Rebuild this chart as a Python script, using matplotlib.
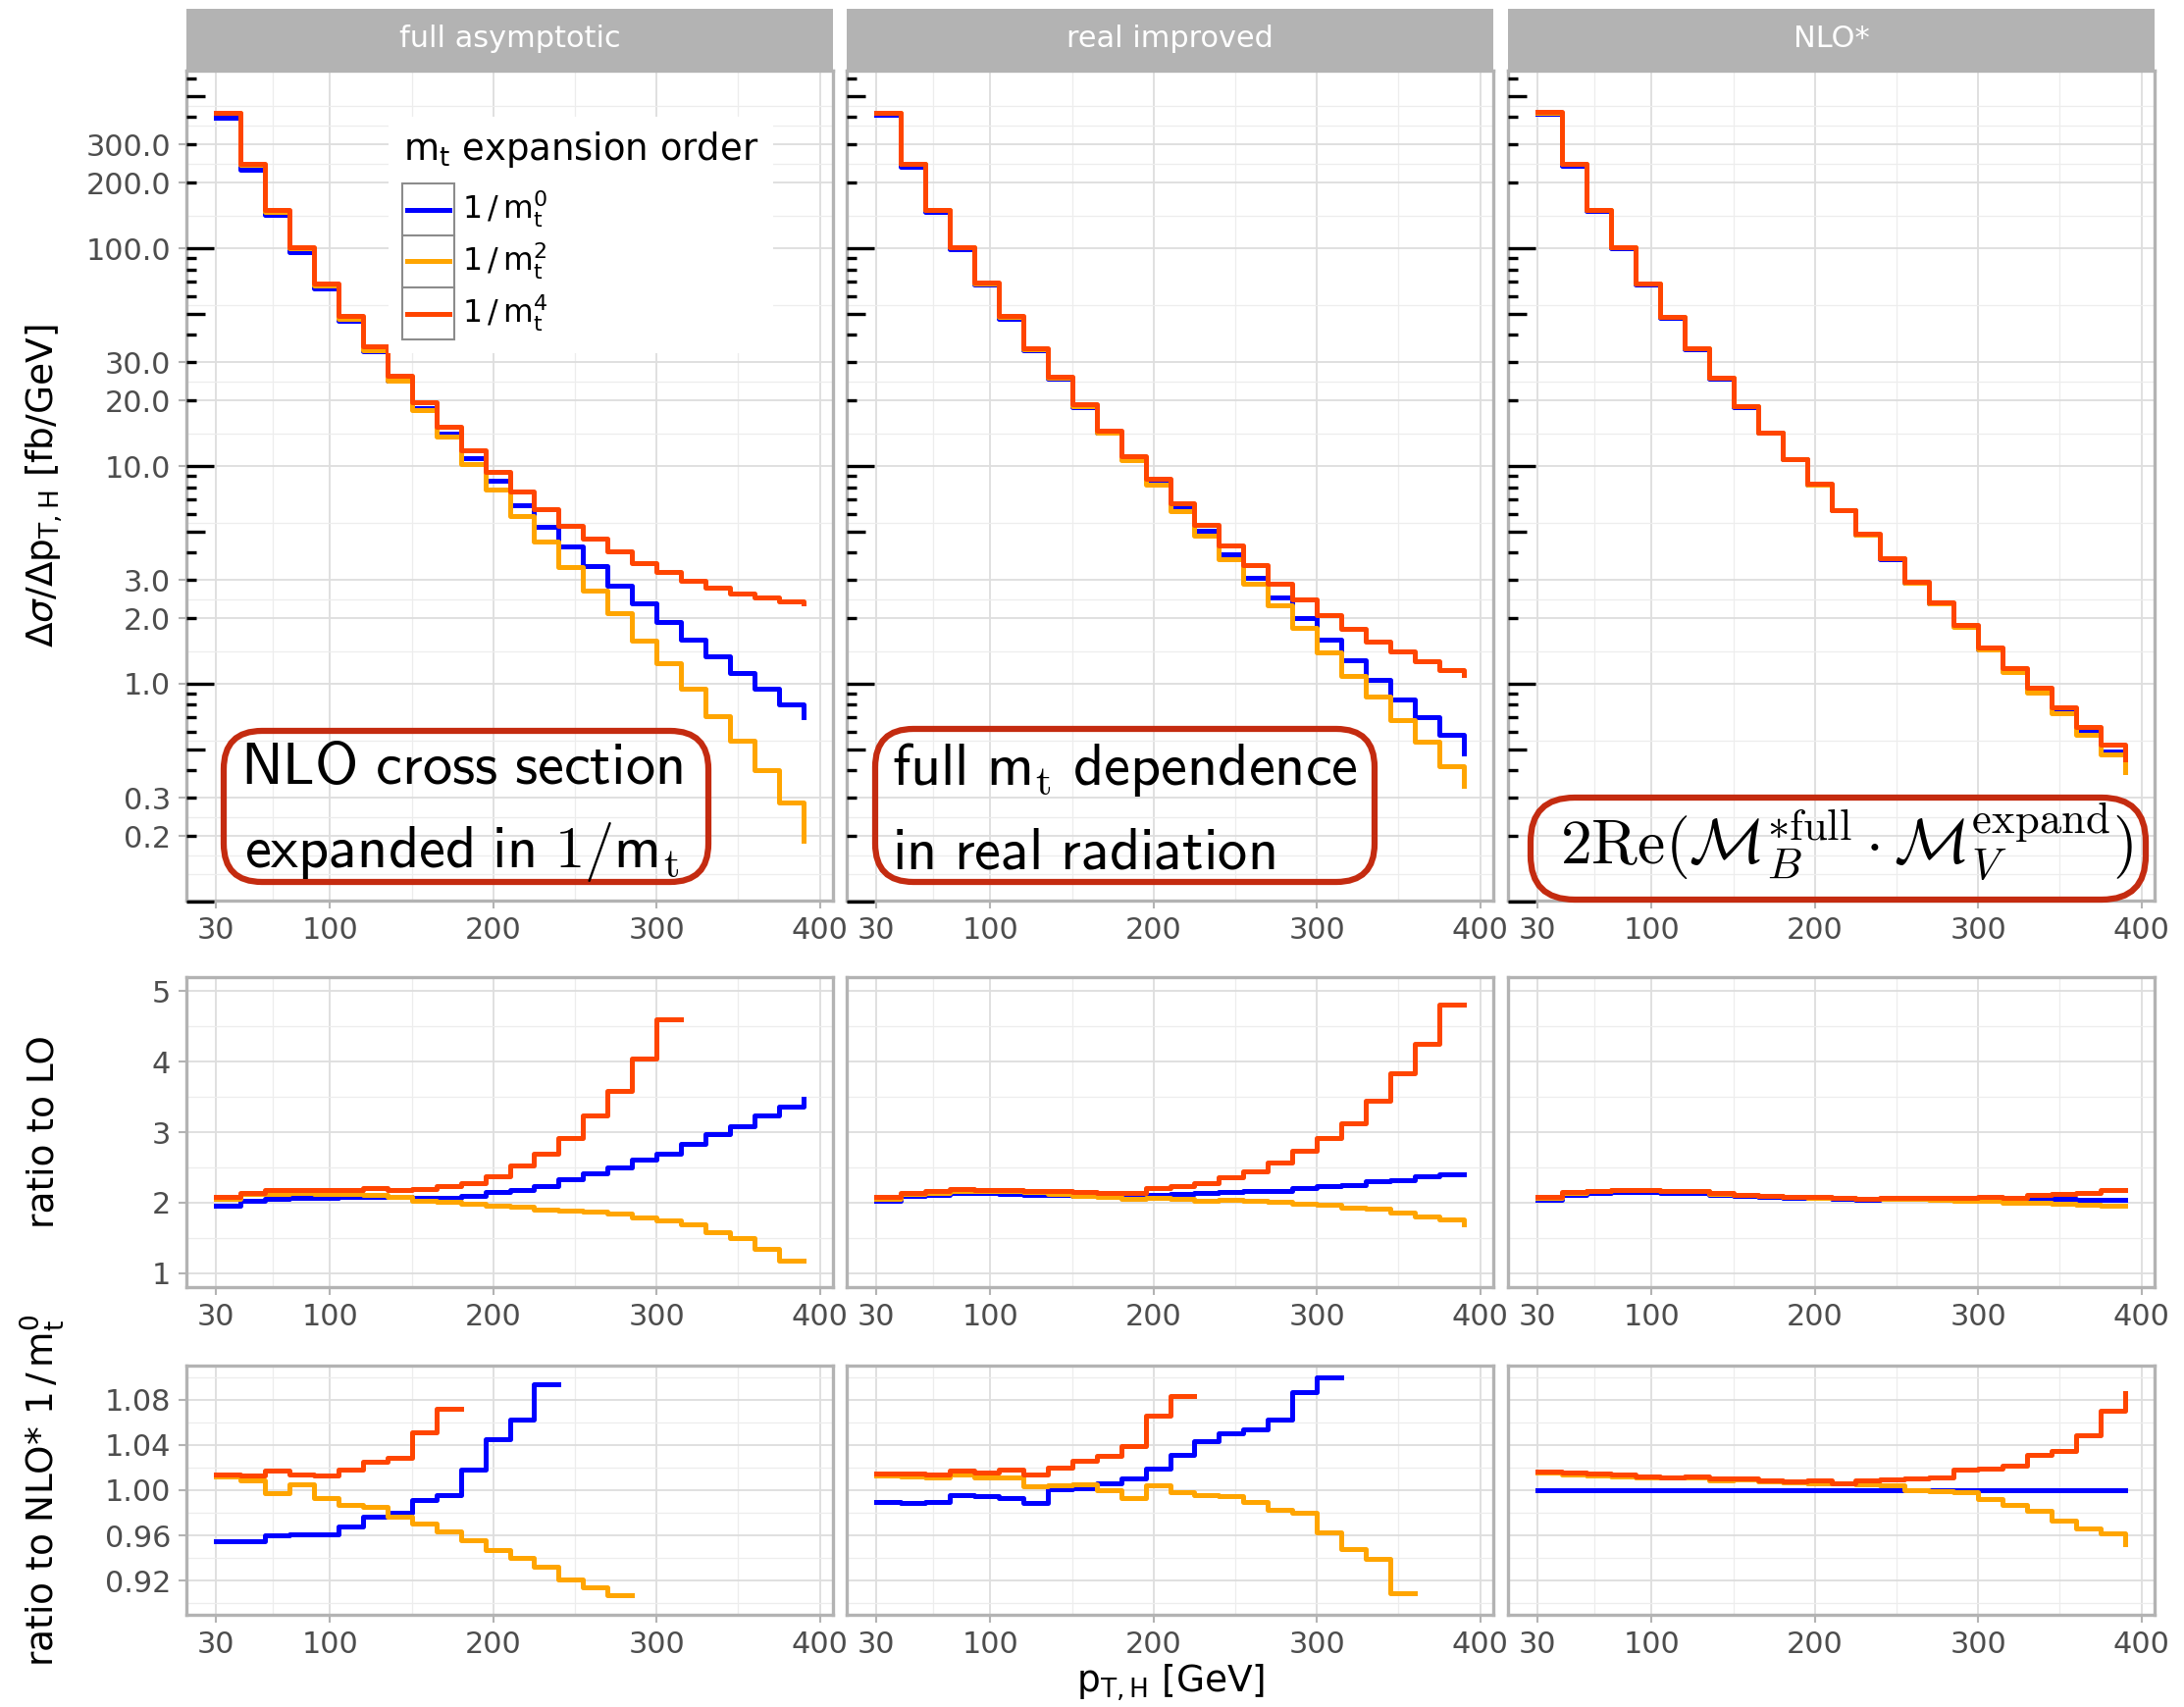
import numpy as np
import matplotlib
matplotlib.use("Agg")
import matplotlib.pyplot as plt
from matplotlib.patches import FancyBboxPatch, Rectangle
from matplotlib.lines import Line2D
from matplotlib.ticker import FixedLocator, NullFormatter, FixedFormatter

plt.rcParams['font.family'] = ['DejaVu Sans']
plt.rcParams['mathtext.fontset'] = 'dejavusans'

W, H, DPI = 2226, 1740, 300
nan = float('nan')

# ---------------- data ----------------
pt_edges = [30, 45, 60, 75, 90, 105, 120, 135, 150, 165, 180, 195, 210,
            225, 240, 255, 270, 285, 300, 315, 330, 345, 360, 375, 390]
panel_titles = ["full asymptotic", "real improved", "NLO*"]
order_labels = [r'$1\,/\,\mathrm{m}_\mathrm{t}^0$', r'$1\,/\,\mathrm{m}_\mathrm{t}^2$',
                r'$1\,/\,\mathrm{m}_\mathrm{t}^4$']
order_colors = ['#0000FF', '#FFA500', '#FF4500']

# dsigma/dpT [fb/GeV]
xsec_asym_m0 = [395.5, 229.4, 142.0, 95.7, 65.5, 46.3, 33.6, 24.7, 18.5, 14.1, 10.9, 8.56, 6.63,
                5.28, 4.26, 3.46, 2.81, 2.34, 1.92, 1.60, 1.34, 1.12, 0.95, 0.80, 0.70]
xsec_asym_m2 = [419.0, 242.0, 147.5, 100.2, 67.7, 47.2, 33.9, 24.65, 18.15, 13.65, 10.24, 7.76, 5.87,
                4.50, 3.45, 2.67, 2.12, 1.58, 1.24, 0.95, 0.71, 0.55, 0.40, 0.284, 0.19]
xsec_asym_m4 = [420.0, 243.4, 150.4, 101.0, 69.1, 48.7, 35.3, 26.0, 19.65, 15.19, 11.85, 9.38, 7.67,
                6.34, 5.33, 4.62, 4.04, 3.60, 3.25, 2.98, 2.76, 2.59, 2.49, 2.38, 2.35]
xsec_real_m0 = [410.0, 237.4, 146.4, 99.2, 67.9, 47.5, 34.0, 25.3, 18.7, 14.3, 10.8, 8.35, 6.43,
                5.04, 3.93, 3.08, 2.48, 2.00, 1.59, 1.28, 1.04, 0.85, 0.70, 0.58, 0.48]
xsec_real_m2 = [419.3, 243.1, 149.5, 101.0, 68.9, 48.4, 34.5, 25.35, 18.8, 14.16, 10.63, 8.23, 6.23,
                4.81, 3.73, 2.89, 2.29, 1.80, 1.39, 1.09, 0.873, 0.684, 0.54, 0.42, 0.34]
xsec_real_m4 = [420.2, 243.7, 149.9, 101.3, 69.3, 48.7, 34.9, 25.7, 19.2, 14.6, 11.13, 8.73, 6.76,
                5.36, 4.33, 3.50, 2.89, 2.43, 2.07, 1.78, 1.57, 1.41, 1.27, 1.16, 1.10]
xsec_nlostar_m0 = [414.1, 240.2, 147.9, 99.6, 68.2, 47.85, 34.4, 25.24, 18.7, 14.17, 10.71, 8.19, 6.24,
                   4.83, 3.745, 2.92, 2.334, 1.837, 1.443, 1.15, 0.929, 0.752, 0.606, 0.491, 0.414]
xsec_nlostar_m2 = [420.5, 243.6, 149.8, 100.8, 69.0, 48.4, 34.8, 25.47, 18.88, 14.28, 10.78, 8.24, 6.28,
                   4.85, 3.76, 2.92, 2.33, 1.833, 1.431, 1.135, 0.912, 0.732, 0.585, 0.472, 0.394]
xsec_nlostar_m4 = [421.0, 244.0, 150.0, 101.0, 69.0, 48.4, 34.8, 25.5, 18.9, 14.3, 10.8, 8.26, 6.28,
                   4.87, 3.78, 2.95, 2.36, 1.87, 1.47, 1.175, 0.958, 0.778, 0.635, 0.525, 0.45]

# ratio to LO
ratio_lo_asym_m0 = [1.95, 2.02, 2.05, 2.07, 2.07, 2.08, 2.08, 2.08, 2.07, 2.07, 2.10, 2.15, 2.18,
                    2.23, 2.33, 2.42, 2.50, 2.61, 2.69, 2.83, 2.97, 3.09, 3.23, 3.36, 3.48]
ratio_lo_asym_m2 = [2.06, 2.12, 2.125, 2.14, 2.125, 2.125, 2.11, 2.08, 2.03, 2.01, 1.98, 1.95, 1.935,
                    1.905, 1.89, 1.875, 1.85, 1.79, 1.74, 1.69, 1.58, 1.50, 1.35, 1.18, 1.18]
ratio_lo_asym_m4 = [2.077, 2.142, 2.172, 2.184, 2.184, 2.184, 2.20, 2.178, 2.196, 2.23, 2.27, 2.37, 2.52,
                    2.69, 2.92, 3.24, 3.58, 4.05, 4.60, nan, nan, nan, nan, nan, nan]
ratio_lo_real_m0 = [2.02, 2.095, 2.11, 2.14, 2.14, 2.12, 2.11, 2.11, 2.095, 2.095, 2.10, 2.11, 2.125,
                    2.13, 2.15, 2.16, 2.17, 2.21, 2.24, 2.255, 2.30, 2.32, 2.37, 2.40, 2.40]
ratio_lo_real_m2 = [2.06, 2.12, 2.14, 2.17, 2.17, 2.16, 2.15, 2.125, 2.10, 2.077, 2.05, 2.07, 2.06,
                    2.03, 2.035, 2.02, 2.006, 1.99, 1.97, 1.93, 1.92, 1.86, 1.80, 1.76, 1.69]
ratio_lo_real_m4 = [2.077, 2.14, 2.17, 2.19, 2.18, 2.18, 2.17, 2.16, 2.15, 2.14, 2.14, 2.20, 2.23,
                    2.27, 2.36, 2.45, 2.57, 2.73, 2.92, 3.13, 3.45, 3.83, 4.26, 4.81, 4.81]
ratio_lo_nlostar_m0 = [2.036, 2.11, 2.13, 2.148, 2.148, 2.136, 2.136, 2.107, 2.09, 2.077, 2.07, 2.065, 2.06,
                       2.036, 2.047, 2.047, 2.047, 2.047, 2.053, 2.053, 2.047, 2.047, 2.036, 2.036, 2.036]
ratio_lo_nlostar_m2 = [2.07, 2.14, 2.165, 2.18, 2.18, 2.16, 2.16, 2.125, 2.105, 2.09, 2.08, 2.07, 2.065,
                       2.05, 2.055, 2.05, 2.045, 2.03, 2.03, 2.0, 2.0, 1.98, 1.97, 1.95, 1.95]
ratio_lo_nlostar_m4 = [2.083, 2.148, 2.17, 2.184, 2.184, 2.166, 2.166, 2.13, 2.11, 2.095, 2.083, 2.077, 2.07,
                       2.053, 2.065, 2.065, 2.065, 2.065, 2.083, 2.07, 2.11, 2.125, 2.14, 2.18, 2.18]

# ratio to NLO* 1/mt^0
ratio_ref_asym_m0 = [0.955, 0.955, 0.960, 0.961, 0.961, 0.968, 0.977, 0.980, 0.9915, 0.996, 1.0186, 1.045,
                     1.062, 1.0935, nan, nan, nan, nan, nan, nan, nan, nan, nan, nan, nan]
ratio_ref_asym_m2 = [1.012, 1.0085, 0.9974, 1.0056, 0.9933, 0.9874, 0.9855, 0.9766, 0.9707, 0.9636, 0.9558,
                     0.9473, 0.9402, 0.9328, 0.921, 0.9146, 0.9076, nan, nan, nan, nan, nan, nan, nan, nan]
ratio_ref_asym_m4 = [1.0141, 1.0134, 1.017, 1.014, 1.013, 1.018, 1.025, 1.029, 1.051, 1.072,
                     nan, nan, nan, nan, nan, nan, nan, nan, nan, nan, nan, nan, nan, nan, nan]
ratio_ref_real_m0 = [0.990, 0.9885, 0.990, 0.996, 0.9952, 0.9933, 0.9889, 1.001, 1.0019, 1.0063, 1.010,
                     1.0193, 1.0312, 1.043, 1.050, 1.0538, 1.062, 1.0865, 1.0995, nan, nan, nan, nan, nan, nan]
ratio_ref_real_m2 = [1.0126, 1.0119, 1.011, 1.014, 1.011, 1.011, 1.0037, 1.0045, 1.0052, 0.9996, 0.993,
                     1.0045, 0.998, 0.996, 0.9948, 0.9896, 0.983, 0.980, 0.963, 0.948, 0.9395, 0.9094,
                     nan, nan, nan]
ratio_ref_real_m4 = [1.0148, 1.0145, 1.0137, 1.0174, 1.0156, 1.0178, 1.0137, 1.020, 1.0264, 1.0304, 1.039,
                     1.0657, 1.0828, nan, nan, nan, nan, nan, nan, nan, nan, nan, nan, nan, nan]
ratio_ref_nlostar_m0 = [1.0, 1.0, 1.0, 1.0, 1.0, 1.0, 1.0, 1.0, 1.0, 1.0, 1.0, 1.0, 1.0,
                        1.0, 1.0, 1.0, 1.0, 1.0, 1.0, 1.0, 1.0, 1.0, 1.0, 1.0, 1.0]
ratio_ref_nlostar_m2 = [1.0155, 1.014, 1.013, 1.0125, 1.0115, 1.011, 1.011, 1.009, 1.0095, 1.008, 1.007,
                        1.006, 1.006, 1.005, 1.004, 0.9996, 0.999, 0.998, 0.992, 0.9874, 0.982, 0.973,
                        0.966, 0.962, 0.952]
ratio_ref_nlostar_m4 = [1.0167, 1.016, 1.0145, 1.0137, 1.012, 1.0115, 1.012, 1.0104, 1.0108, 1.0089, 1.0082,
                        1.0085, 1.006, 1.0085, 1.0093, 1.0104, 1.011, 1.018, 1.019, 1.022, 1.031, 1.035,
                        1.0486, 1.070, 1.0857]

x_ticks = [30, 100, 200, 300, 400]
x_minor = [65, 150, 250, 350]
top_yticks = [0.2, 0.3, 1, 2, 3, 10, 20, 30, 100, 200, 300]
top_ylabels = ["0.2", "0.3", "1.0", "2.0", "3.0", "10.0", "20.0", "30.0", "100.0", "200.0", "300.0"]
top_yminor = [0.133, 0.163, 0.245, 0.548, 1.414, 2.449, 5.48, 14.1, 24.5, 54.8, 141, 245, 367, 450]
mid_yticks = [1, 2, 3, 4, 5]
mid_ylabels = ["1", "2", "3", "4", "5"]
mid_yminor = [1.5, 2.5, 3.5, 4.5]
bot_yticks = [0.92, 0.96, 1.00, 1.04, 1.08]
bot_ylabels = ["0.92", "0.96", "1.00", "1.04", "1.08"]
bot_yminor = [0.90, 0.94, 0.98, 1.02, 1.06, 1.10]

rows_data = [
    [[xsec_asym_m0, xsec_asym_m2, xsec_asym_m4],
     [xsec_real_m0, xsec_real_m2, xsec_real_m4],
     [xsec_nlostar_m0, xsec_nlostar_m2, xsec_nlostar_m4]],
    [[ratio_lo_asym_m0, ratio_lo_asym_m2, ratio_lo_asym_m4],
     [ratio_lo_real_m0, ratio_lo_real_m2, ratio_lo_real_m4],
     [ratio_lo_nlostar_m0, ratio_lo_nlostar_m2, ratio_lo_nlostar_m4]],
    [[ratio_ref_asym_m0, ratio_ref_asym_m2, ratio_ref_asym_m4],
     [ratio_ref_real_m0, ratio_ref_real_m2, ratio_ref_real_m4],
     [ratio_ref_nlostar_m0, ratio_ref_nlostar_m2, ratio_ref_nlostar_m4]],
]

# ---------------- layout (pixels) ----------------
col_px = [(190, 849), (863, 1522), (1537, 2196)]
row_px = [(72, 918), (996, 1312), (1392, 1646)]
strip_px = (9, 71)

GRID_MAJ = '#DEDEDE'
GRID_MIN = '#EDEDED'
BORDER = '#B3B3B3'
TICKLAB = '#4D4D4D'
LW = 1.2

fig = plt.figure(figsize=(W / DPI, H / DPI), dpi=DPI)
T = fig.dpi_scale_trans


def P(x, y):
    return (x / DPI, (H - y) / DPI)


def add_ax(x0, y0, x1, y1):
    return fig.add_axes([x0 / W, 1 - y1 / H, (x1 - x0) / W, (y1 - y0) / H])


row_cfg = [
    dict(log=True, ylim=(0.101, 654), ticks=top_yticks, labels=top_ylabels, minor=top_yminor),
    dict(log=False, ylim=(0.8, 5.2), ticks=mid_yticks, labels=mid_ylabels, minor=mid_yminor),
    dict(log=False, ylim=(0.89, 1.11), ticks=bot_yticks, labels=bot_ylabels, minor=bot_yminor),
]

for r, cfg in enumerate(row_cfg):
    for c in range(3):
        x0, x1 = col_px[c]
        y0, y1 = row_px[r]
        ax = add_ax(x0, y0, x1, y1)
        if cfg['log']:
            ax.set_yscale('log')
        for k in range(3):
            ax.step(pt_edges, rows_data[r][c][k], where='post', color=order_colors[k],
                    lw=LW, zorder=3 + k)
        ax.set_xlim(12, 408)
        ax.set_ylim(*cfg['ylim'])
        ax.xaxis.set_major_locator(FixedLocator(x_ticks))
        ax.xaxis.set_minor_locator(FixedLocator(x_minor))
        ax.set_xticklabels([str(v) for v in x_ticks])
        ax.yaxis.set_major_locator(FixedLocator(cfg['ticks']))
        ax.yaxis.set_minor_locator(FixedLocator(cfg['minor']))
        ax.yaxis.set_minor_formatter(NullFormatter())
        if c == 0:
            ax.yaxis.set_major_formatter(FixedFormatter(cfg['labels']))
        else:
            ax.yaxis.set_major_formatter(NullFormatter())
        ax.grid(which='major', color=GRID_MAJ, lw=0.45, zorder=0)
        ax.grid(which='minor', color=GRID_MIN, lw=0.3, zorder=0)
        ax.set_axisbelow(True)
        for sp in ax.spines.values():
            sp.set_color(BORDER)
            sp.set_linewidth(0.8)
        ax.tick_params(which='major', axis='x', length=2.0, width=0.5, color=BORDER,
                       labelcolor=TICKLAB, labelsize=7.3, pad=1.8)
        ax.tick_params(which='major', axis='y', length=2.0 if c == 0 else 0, width=0.5,
                       color=BORDER, labelcolor=TICKLAB, labelsize=7.3, pad=1.8)
        ax.tick_params(which='minor', length=0)
        if cfg['log']:
            pw = x1 - x0
            for k in range(-1, 3):
                for m in range(1, 10):
                    v = m * 10.0 ** k
                    if v < 0.1 or v > 654:
                        continue
                    L = 28 if m == 1 else (19 if m == 5 else 10)
                    ax.plot([0, L / pw], [v, v], transform=ax.get_yaxis_transform(),
                            color='black', lw=0.8, clip_on=False, zorder=7,
                            solid_capstyle='butt')
        if r == 0:
            sax = add_ax(x0, strip_px[0], x1, strip_px[1])
            sax.set_facecolor('#B3B3B3')
            for sp in sax.spines.values():
                sp.set_visible(False)
            sax.set_xticks([])
            sax.set_yticks([])
            sax.text(0.5, 0.5, panel_titles[c], color='white', fontsize=7.3,
                     ha='center', va='center', transform=sax.transAxes)

# ---------------- axis titles ----------------
ylab_kw = dict(rotation=90, rotation_mode='anchor', ha='center', va='baseline',
               fontsize=9, color='black', transform=T)
fig.text(*P(55, 495), r'$\Delta\sigma/\Delta\mathrm{p}_{\mathrm{T,H}}$ [fb/GeV]', **ylab_kw)
fig.text(*P(55, 1154), 'ratio to LO', **ylab_kw)
fig.text(*P(55, 1519), r'ratio to NLO* $1\,/\,\mathrm{m}_\mathrm{t}^0$', **ylab_kw)
fig.text(*P(1193, 1725), r'$\mathrm{p}_\mathrm{T,H}$ [GeV]', ha='center', va='baseline',
         fontsize=9, transform=T)

# ---------------- legend ----------------
fig.add_artist(Rectangle(P(396, 360), (788 - 396) / DPI, (360 - 119) / DPI, transform=T,
                         facecolor='white', edgecolor='none', zorder=8))
fig.text(*P(411, 163), r'$\mathrm{m}_\mathrm{t}$ expansion order', fontsize=8.9,
         ha='left', va='baseline', transform=T, zorder=9)
key_tops = [187, 240, 293]
for k in range(3):
    yt = key_tops[k]
    fig.add_artist(Rectangle(P(410, yt + 53), 53 / DPI, 53 / DPI, transform=T,
                             facecolor='white', edgecolor='#8C8C8C', lw=0.5, zorder=9))
    yc = yt + 26.5
    fig.add_artist(Line2D([415 / DPI, 458 / DPI], [(H - yc) / DPI] * 2, transform=T,
                          color=order_colors[k], lw=LW, zorder=10))
    fig.text(*P(471, yc), order_labels[k], fontsize=7.6, ha='left', va='center',
             transform=T, zorder=10)

# ---------------- annotation boxes ----------------
BOX_EC = '#C42B10'


def add_box(x0, y0, x1, y1, rad=0.13):
    fig.add_artist(FancyBboxPatch(P(x0, y1), (x1 - x0) / DPI, (y1 - y0) / DPI,
                                  boxstyle=f"round,pad=0,rounding_size={rad}",
                                  transform=T, fill=False, edgecolor=BOX_EC, lw=1.5, zorder=9))


add_box(228, 745, 722, 899)
fig.text(*P(245, 799), r'$\mathsf{NLO\ cross\ section}$', math_fontfamily='cm',
         fontsize=14.5, ha='left', va='baseline', transform=T, zorder=10)
fig.text(*P(249, 884), r'$\mathsf{expanded\ in\ 1/m}_\mathrm{t}$', math_fontfamily='cm',
         fontsize=14.5, ha='left', va='baseline', transform=T, zorder=10)

add_box(892, 743, 1401, 899)
fig.text(*P(909, 800), r'$\mathsf{full}\ \mathsf{m}_\mathrm{t}\ \mathsf{dependence}$',
         math_fontfamily='cm', fontsize=14.5, ha='left', va='baseline', transform=T, zorder=10)
fig.text(*P(909, 885), r'$\mathsf{in\ real\ radiation}$', math_fontfamily='cm',
         fontsize=14.5, ha='left', va='baseline', transform=T, zorder=10)

add_box(1560, 813, 2187, 917, rad=0.15)
fig.text(*P(1882, 881),
         r'$2\mathrm{Re}(\mathcal{M}_B^{*\mathrm{full}}\cdot\mathcal{M}_V^{\mathrm{expand}})$',
         math_fontfamily='cm', fontsize=15.3, ha='center', va='baseline', transform=T, zorder=10)

fig.savefig('out.png', dpi=DPI)
